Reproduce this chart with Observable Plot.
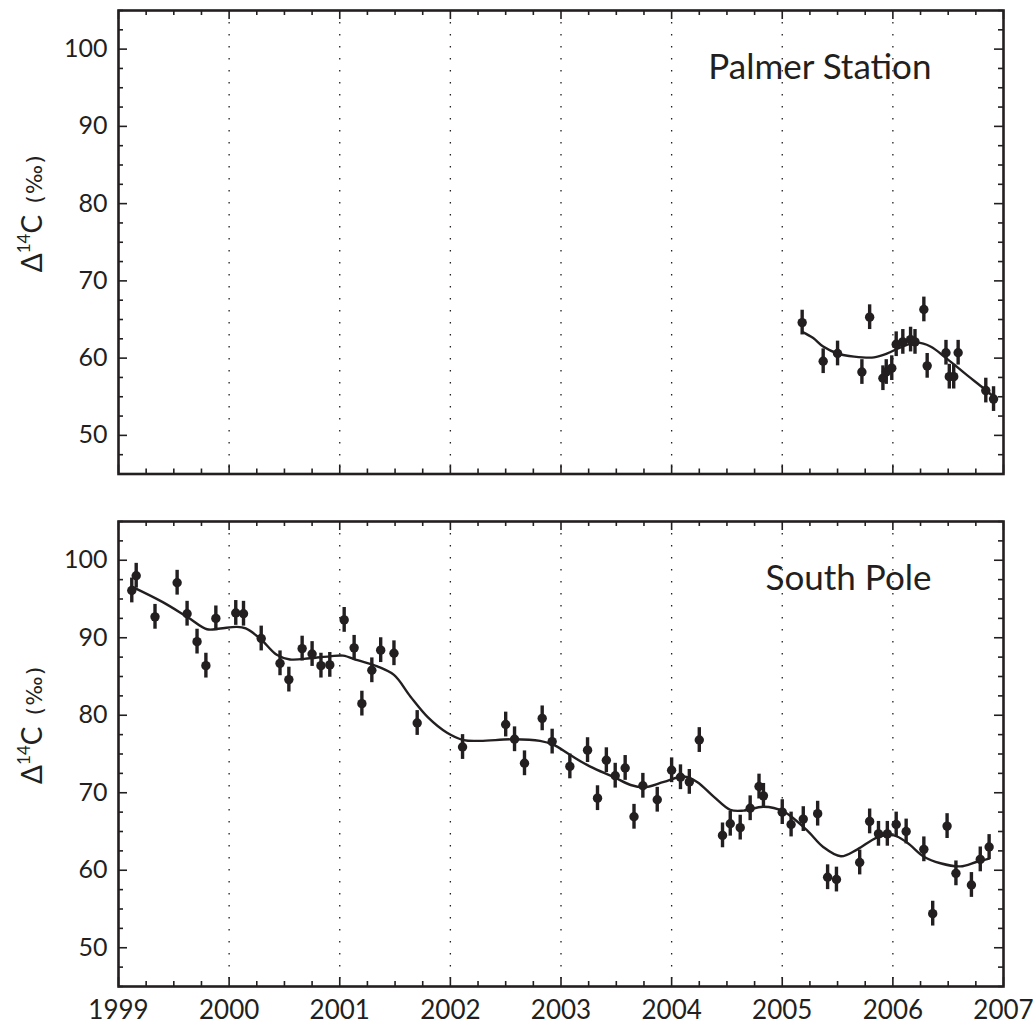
<!DOCTYPE html>
<html><head><meta charset="utf-8">
<script src="https://cdn.jsdelivr.net/npm/d3@7"></script>
<script src="https://cdn.jsdelivr.net/npm/@observablehq/plot@0.6"></script>
<style>
body{margin:0;background:#fff;}
#chart{width:1035px;}
#chart svg{display:block;}
</style>
</head><body><div id="chart"></div>
<script>
// ---- data ----
const panelNames = ["Palmer Station", "South Pole"];
const xTickYears = [1999, 2000, 2001, 2002, 2003, 2004, 2005, 2006, 2007];
const gridYears = [2000, 2001, 2002, 2003, 2004, 2005, 2006];
const yTickValues = [50, 60, 70, 80, 90, 100];
const measurementError = 1.6;

const palmerYear = [2005.18, 2005.37, 2005.50, 2005.72, 2005.79, 2005.91, 2005.94, 2005.99, 2006.03, 2006.09,
  2006.16, 2006.20, 2006.28, 2006.31, 2006.48, 2006.51, 2006.55, 2006.59, 2006.84, 2006.91];
const palmerValue = [64.6, 59.6, 60.6, 58.2, 65.3, 57.4, 58.2, 58.7, 61.8, 62.1,
  62.4, 62.1, 66.3, 59.0, 60.7, 57.6, 57.6, 60.7, 55.8, 54.7];
const palmerFitYear = [2005.18, 2005.28, 2005.37, 2005.50, 2005.65, 2005.83, 2005.95, 2006.07, 2006.22, 2006.34,
  2006.49, 2006.67, 2006.82, 2006.91];
const palmerFitValue = [63.4, 62.6, 61.5, 60.6, 60.2, 60.1, 60.6, 61.4, 62.0, 61.5,
  59.9, 57.8, 56.1, 55.0];

const poleYear = [1999.12, 1999.16, 1999.33, 1999.53, 1999.62, 1999.71, 1999.79, 1999.88, 2000.06, 2000.13,
  2000.29, 2000.46, 2000.54, 2000.66, 2000.75, 2000.83, 2000.91, 2001.04, 2001.13, 2001.20,
  2001.29, 2001.37, 2001.49, 2001.70, 2002.11, 2002.50, 2002.58, 2002.67, 2002.83, 2002.92,
  2003.08, 2003.24, 2003.33, 2003.41, 2003.49, 2003.58, 2003.66, 2003.74, 2003.87, 2004.00,
  2004.08, 2004.16, 2004.25, 2004.46, 2004.53, 2004.62, 2004.71, 2004.79, 2004.83, 2005.00,
  2005.08, 2005.19, 2005.32, 2005.41, 2005.49, 2005.70, 2005.79, 2005.87, 2005.95, 2006.03,
  2006.12, 2006.28, 2006.36, 2006.49, 2006.57, 2006.71, 2006.79, 2006.87];
const poleValue = [96.1, 98.0, 92.7, 97.1, 93.1, 89.5, 86.4, 92.5, 93.2, 93.1,
  89.9, 86.7, 84.6, 88.6, 87.9, 86.4, 86.5, 92.3, 88.7, 81.5,
  85.8, 88.4, 88.0, 79.0, 75.9, 78.8, 76.9, 73.8, 79.6, 76.6,
  73.4, 75.5, 69.3, 74.2, 72.2, 73.2, 66.9, 70.9, 69.1, 72.9,
  72.0, 71.4, 76.8, 64.5, 66.0, 65.5, 68.0, 70.8, 69.6, 67.5,
  65.9, 66.6, 67.3, 59.1, 58.8, 61.0, 66.3, 64.7, 64.7, 65.9,
  65.0, 62.7, 54.4, 65.7, 59.6, 58.1, 61.4, 63.0];
const poleFitYear = [1999.12, 1999.40, 1999.62, 1999.80, 1999.92, 2000.07, 2000.15, 2000.28, 2000.43, 2000.55,
  2000.73, 2000.91, 2001.03, 2001.16, 2001.34, 2001.49, 2001.64, 2001.80, 2001.97, 2002.12,
  2002.27, 2002.57, 2002.81, 2002.93, 2003.08, 2003.26, 2003.48, 2003.63, 2003.75, 2003.93,
  2004.11, 2004.23, 2004.38, 2004.53, 2004.65, 2004.83, 2005.01, 2005.22, 2005.37, 2005.53,
  2005.68, 2005.86, 2006.01, 2006.13, 2006.28, 2006.43, 2006.61, 2006.76, 2006.87];
const poleFitValue = [96.6, 94.6, 92.7, 91.1, 91.2, 91.4, 91.2, 89.9, 87.8, 87.2,
  87.35, 87.6, 87.7, 87.1, 86.3, 85.2, 82.4, 79.7, 77.75, 76.8,
  76.7, 76.9, 76.7, 76.2, 74.9, 73.4, 72.0, 71.0, 70.7, 71.4,
  72.1, 71.4, 69.5, 67.8, 67.7, 68.2, 67.6, 65.2, 63.0, 61.8,
  62.7, 64.25, 64.5, 63.55, 61.75, 60.9, 60.5, 61.1, 61.5];

// ---- helpers ----
const INK = "#231f20";
const FONT = "Lato, 'Open Sans', sans-serif";
const W = 1035, ML = 118, MR = 32;
const FW = W - ML - MR;
const yMinor = d3.range(45, 105.01, 2.5).filter(v => !yTickValues.includes(v));
const xMinor = d3.range(1999, 2007.001, 0.25).filter(v => !xTickYears.some(y => Math.abs(y - v) < 1e-6));

function panel(name, years, values, fitYears, fitValues, {height, marginTop, marginBottom, showX}) {
  const FH = height - marginTop - marginBottom;
  const pts = years.map((x, i) => ({x, y: values[i], lo: values[i] - measurementError, hi: values[i] + measurementError}));
  const fit = fitYears.map((x, i) => ({x, y: fitValues[i]}));
  const tk = {stroke: INK, strokeWidth: 1.6};
  const marks = [
    Plot.ruleX(gridYears, {stroke: INK, strokeWidth: 1.3, strokeDasharray: "1.5,10.5"}),
    Plot.ruleX(pts, {x: "x", y1: "lo", y2: "hi", stroke: INK, strokeWidth: 3.4}),
    Plot.line(fit, {x: "x", y: "y", stroke: INK, strokeWidth: 2.4, curve: "catmull-rom"}),
    Plot.dot(pts, {x: "x", y: "y", r: 4.7, fill: INK, stroke: "none"}),
    // inward ticks on all four sides
    Plot.tickY(yTickValues, {y: d => d, insetRight: FW - 9, ...tk}),
    Plot.tickY(yMinor, {y: d => d, insetRight: FW - 5, ...tk}),
    Plot.tickY(yTickValues, {y: d => d, insetLeft: FW - 9, ...tk}),
    Plot.tickY(yMinor, {y: d => d, insetLeft: FW - 5, ...tk}),
    Plot.tickX(xTickYears, {x: d => d, insetTop: FH - 9, ...tk}),
    Plot.tickX(xMinor, {x: d => d, insetTop: FH - 5, ...tk}),
    Plot.tickX(xTickYears, {x: d => d, insetBottom: FH - 9, ...tk}),
    Plot.tickX(xMinor, {x: d => d, insetBottom: FH - 5, ...tk}),
    // labels
    Plot.axisY(yTickValues, {anchor: "left", tickSize: 0, tickPadding: 11, fontSize: 25, fill: INK, label: null}),
    Plot.frame({stroke: INK, strokeWidth: 2.6}),
    Plot.text([name], {frameAnchor: "top-right", dx: -72, dy: 57, textAnchor: "end", lineAnchor: "middle", fontSize: 35, fill: INK})
  ];
  if (showX) marks.push(Plot.axisX(xTickYears, {anchor: "bottom", tickSize: 0, tickPadding: 14, fontSize: 26, fill: INK, tickFormat: d => String(d), label: null}));
  const plot = Plot.plot({
    width: W, height, marginLeft: ML, marginRight: MR, marginTop, marginBottom,
    style: {fontFamily: FONT, background: "white", color: INK},
    x: {domain: [1999, 2007], axis: null},
    y: {domain: [45, 105], axis: null},
    marks
  });
  // y-axis title with superscript
  const yc = plot.scale("y").apply(78.7);
  const t = d3.select(plot).append("text")
    .attr("transform", `translate(42,${yc}) rotate(-90)`)
    .attr("text-anchor", "middle")
    .attr("fill", INK)
    .attr("font-family", FONT);
  t.append("tspan").attr("font-size", 28).text("Δ");
  t.append("tspan").attr("font-size", 17).attr("dy", -12).text("14");
  t.append("tspan").attr("font-size", 28).attr("dy", 12).text("C");
  t.append("tspan").attr("font-size", 22).attr("dx", 11).attr("letter-spacing", 1)
    .attr("font-family", "'DejaVu Sans', sans-serif").text("(‰)");
  return plot;
}

const chart = document.getElementById("chart");
chart.append(panel(panelNames[0], palmerYear, palmerValue, palmerFitYear, palmerFitValue,
  {height: 498, marginTop: 10, marginBottom: 24.5, showX: false}));
chart.append(panel(panelNames[1], poleYear, poleValue, poleFitYear, poleFitValue,
  {height: 530, marginTop: 23, marginBottom: 42, showX: true}));
</script>
</body></html>
